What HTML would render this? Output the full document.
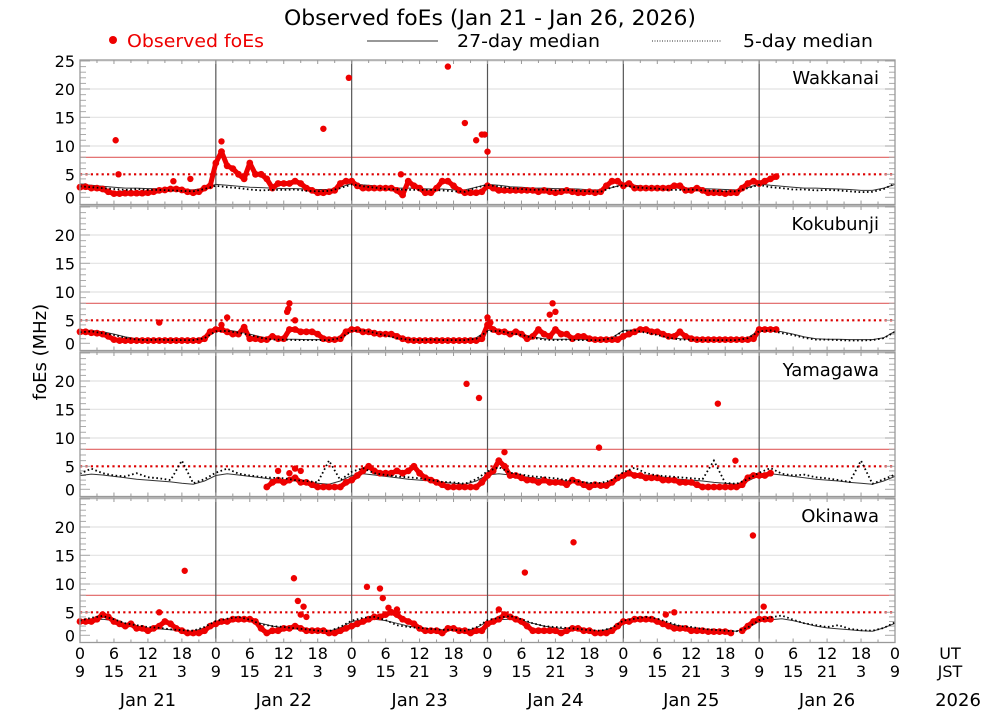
<!DOCTYPE html>
<html><head><meta charset="utf-8"><style>
html,body{margin:0;padding:0;background:#fff;}
svg{display:block;font-family:"DejaVu Sans","Liberation Sans",sans-serif;}
</style></head><body>
<svg id="chart" width="1000" height="714" viewBox="0 0 1000 714" xmlns="http://www.w3.org/2000/svg">
<text x="490" y="25" font-size="21" text-anchor="middle" textLength="412" lengthAdjust="spacingAndGlyphs">Observed foEs (Jan 21 - Jan 26, 2026)</text>
<g>
<circle cx="113" cy="40" r="4" fill="#e00"/>
<text x="127" y="47" font-size="18" fill="#e00" textLength="137" lengthAdjust="spacingAndGlyphs">Observed foEs</text>
<line x1="367" y1="41" x2="438" y2="41" stroke="#777" stroke-width="1.5"/>
<text x="457" y="47" font-size="18" textLength="143" lengthAdjust="spacingAndGlyphs">27-day median</text>
<line x1="652" y1="41" x2="722" y2="41" stroke="#555" stroke-width="1.2" stroke-dasharray="1,1.5"/>
<text x="743" y="47" font-size="18" textLength="130" lengthAdjust="spacingAndGlyphs">5-day median</text>
</g>
<text transform="translate(46,352) rotate(-90)" font-size="18" text-anchor="middle">foEs (MHz)</text>
<g id="panels"></g>
<g id="xaxis"></g>
</svg>
<script>
const stations = ["Wakkanai","Kokubunji","Yamagawa","Okinawa"];
const yTicks = [0,5,10,15,20,25];
const dayLabels = ["Jan 21","Jan 22","Jan 23","Jan 24","Jan 25","Jan 26"];
const utLabels = ["0","6","12","18"];
const jstLabels = ["9","15","21","3"];
// observed hourly from h=0 (Jan 21 00UT); null = no data
const obsWakkanai = [2.2,2.3,2,2,1.8,1.2,0.8,0.8,0.9,0.9,0.9,0.9,1.0,1.2,1.5,1.6,1.8,1.8,1.6,1.2,1.0,1.2,2.0,2.5,
 7,9,6.5,6,5,4,7,5,5,4,2,3,3,3,3.5,3,2,1.5,1,1,1.2,1.5,3,3.5,
 3.5,2.5,2,2,2,2,2,2,1.5,0.5,3.5,2.5,2,1,1,2,3.5,3.5,2.5,1.5,1,1,1,1.2,
 2.5,2,1.5,1.5,1.5,1.5,1.5,1.5,1.5,1.2,1.5,1.2,1.0,1.2,1.5,1.2,1.0,1.0,1.2,1.0,1.2,2.5,3.5,3.5,
 2.5,3,2,2,2,2,2,2,2,2.5,2.5,1.5,1.5,2,1.5,1,1,1,0.8,1,1,2,3,3.5,
 3,3.5,4,4.5];
const outWakkanaiH = [6.3,6.8,16.5,19.5,25,43,47.5,56.7,65,68,70,71,71.5,72];
const outWakkanaiV = [11,5,3.5,4,10.8,13,22,5,24,14,11,12,12,9];
const obsKokubunji = [2.5,2.5,2.3,2.2,2,1.5,0.8,0.6,0.6,0.6,0.6,0.6,0.6,0.6,0.6,0.6,0.6,0.6,0.6,0.6,0.6,0.6,1,2.5,
 3,3,2.5,2,2,3.5,1,1,0.8,0.8,1.5,1,1,3,3,2.5,2.5,2.5,2,1,0.8,0.8,1,2.5,
 3,3,2.5,2.5,2.2,2,2,2,1.5,1,0.7,0.6,0.6,0.6,0.6,0.6,0.6,0.6,0.6,0.6,0.6,0.6,0.6,1,
 4,3,2.5,2.5,2,2.5,2,1,1.5,3,2,1.5,3,2,2,1,1.5,1.5,1,0.8,0.8,0.8,0.8,0.8,
 1.5,2,2.5,3,3,2.5,2.5,2,1.5,1.5,2.5,1.5,1,0.8,0.8,0.8,0.8,0.8,0.8,0.8,0.8,0.8,0.8,1,
 3,3,3,3];
const outKokubunjiH = [14,26,25,36.6,37,36.8,38,72,72.5,83,83.5,84];
const outKokubunjiV = [4.5,5.5,4,6.5,8,7,5,5.5,4.5,6,8,6.5];
const obsYamagawa = [null,null,null,null,null,null,null,null,null,null,null,null,null,null,null,null,null,null,null,null,null,null,null,null,
 null,null,null,null,null,null,null,null,null,0.5,1.5,2,1.5,2,2.5,1.5,1.5,1,0.5,0.5,0.5,0.5,0.5,1.5,
 2,3,4,5,4,3.5,3.5,3.5,4,3.5,4,5,3.5,2.5,2,1.5,1,0.5,0.5,0.5,0.5,0.5,0.5,1.5,
 3,4,6,5,3,3,2.5,2,2,1.5,2,1.5,1.5,1.5,1,2,1.5,1,0.5,1,0.8,0.8,1.5,2.5,
 3,3.5,3,3,2.5,2.5,2.5,2,2,2,1.5,1.5,1.5,1,0.5,0.5,0.5,0.5,0.5,0.5,0.5,1,2.5,3,
 3,3,3.5];
const outYamagawaH = [35,37,38,39,68.3,70.5,75,91.7,112.7,115.8];
const outYamagawaV = [4,3.5,4.5,4,19.5,17,7.5,8.3,16,6];
const obsOkinawa = [3,3,3,3.5,4.5,4,3,2.5,2,2.5,1.5,1.5,1,1.5,2,3,2.5,1.5,1,0.5,0.5,0.5,1,2,
 2.5,3,3,3.5,3.5,3.5,3.5,3,1.5,0.5,1,1,1.5,1.5,2,1.5,1,1,1,1,0.5,0.5,1,1.5,
 2,2.5,3,3.5,4,4,4.5,5,4.5,3.5,3,2.5,1.5,1,1,1,0.5,1.5,1.5,1,1,0.5,1,1,
 2.5,3,3.5,4.5,4,3.5,3,2,1,1,1,1,1,0.5,1,1.5,1.5,1,1,0.5,0.5,0.5,1,2,
 3,3,3.5,3.5,3.5,3.5,3,2.5,2,1.5,1.5,1.5,1,1,1,0.8,0.8,0.8,0.8,0.5,null,1,2,3,
 3.5,3.5,3.5];
const outOkinawaH = [14,18.5,37.8,38.5,39.5,39,40,50.7,53,53.5,54.5,56,74,78.6,87.2,103.5,105,118.9,120.8];
const outOkinawaV = [5,12.3,11,7,6,4.5,4,9.5,9.2,7.5,5.8,5.5,5.5,12,17.3,4.5,5,18.5,6];
// medians every 2 hours from h=0 to h=144
const med27Wakkanai = [2.8,2.6,2.4,2.2,2.0,2.0,1.9,1.9,1.8,1.7,1.6,2.0,
 2.8,2.6,2.4,2.2,2.1,2.0,1.9,1.9,1.8,1.7,1.7,2.2,
 3.0,2.7,2.5,2.2,2.0,2.0,1.9,1.8,1.8,1.6,1.6,2.2,
 2.8,2.6,2.3,2.2,2.0,2.0,1.9,1.9,1.8,1.6,1.6,2.1,
 2.8,2.6,2.4,2.2,2.0,2.0,2.0,1.9,1.8,1.7,1.6,2.1,
 2.9,2.6,2.4,2.2,2.0,2.0,1.9,1.8,1.7,1.5,1.5,2.0,2.8];
const med5Wakkanai = [2.4,2.2,2.0,1.8,1.6,1.8,1.6,1.6,1.5,1.4,1.3,1.8,
 2.5,2.2,2.0,1.7,1.5,1.6,1.6,1.7,1.4,1.3,1.4,2.0,
 2.8,2.4,2.1,1.8,1.7,1.6,1.6,1.6,1.5,1.3,1.2,2.1,
 2.7,2.3,2.0,1.8,1.6,1.7,1.5,1.6,1.4,1.3,1.2,2.2,
 2.6,2.2,2.0,1.9,1.6,1.6,1.7,1.5,1.4,1.3,1.3,2.0,
 2.7,2.2,2.0,1.7,1.7,1.5,1.6,1.5,1.3,1.1,1.2,1.8,3.0];
const med27Kokubunji = [2.7,2.8,2.5,2.0,1.4,1.0,0.9,0.9,0.8,0.8,0.8,1.2,
 2.8,2.9,2.5,2.0,1.4,1.0,0.9,0.9,0.8,0.8,0.8,1.2,
 2.8,2.9,2.5,2.0,1.4,1.0,0.9,0.9,0.8,0.8,0.8,1.2,
 2.8,2.9,2.5,2.0,1.4,1.0,0.9,0.9,0.8,0.8,0.8,1.2,
 2.8,2.9,2.5,2.0,1.4,1.0,0.9,0.9,0.8,0.8,0.8,1.2,
 2.8,2.9,2.5,2.0,1.4,1.0,0.9,0.9,0.8,0.8,0.8,1.2,2.6];
const med5Kokubunji = [2.4,2.6,2.2,1.8,1.2,0.8,0.7,0.8,0.7,0.7,0.7,1.1,
 2.6,2.7,2.3,1.8,1.2,0.8,0.8,0.7,0.7,0.7,0.7,1.1,
 2.7,2.8,2.3,1.7,1.1,0.8,0.7,0.8,0.7,0.7,0.7,1.0,
 2.6,2.7,2.2,1.8,1.2,0.8,0.7,0.8,0.7,0.7,0.7,1.1,
 2.7,2.8,2.3,1.8,1.2,0.8,0.8,0.7,0.7,0.7,0.7,1.1,
 2.6,2.8,2.2,1.8,1.2,0.8,0.8,0.7,0.6,0.6,0.7,1.1,2.5];
const med27Yamagawa = [3.0,3.3,3.1,2.8,2.5,2.2,2.0,1.8,1.6,1.3,1.1,1.8,
 3.0,3.4,3.1,2.8,2.5,2.2,2.0,1.8,1.5,1.3,1.1,1.8,
 3.0,3.4,3.1,2.8,2.5,2.2,2.0,1.8,1.5,1.3,1.1,1.8,
 3.1,3.4,3.1,2.8,2.5,2.2,2.0,1.8,1.5,1.3,1.1,1.8,
 3.0,3.4,3.1,2.8,2.5,2.2,2.0,1.8,1.5,1.3,1.1,1.8,
 3.0,3.4,3.1,2.8,2.5,2.2,2.0,1.8,1.5,1.3,1.1,1.8,2.8];
const med5Yamagawa = [3.4,4.5,3.5,3.0,2.8,3.5,2.6,2.4,2.0,6.0,1.3,2.2,
 3.6,4.5,3.4,3.0,2.7,2.5,2.4,2.0,1.8,1.5,6.0,2.0,
 3.8,4.6,3.5,3.1,2.8,2.6,2.4,2.0,1.6,1.5,1.2,2.2,
 3.9,4.8,3.6,3.2,2.8,2.6,2.4,2.0,1.7,1.4,1.4,2.0,
 3.7,4.7,3.5,3.0,2.8,2.6,2.4,2.2,6.0,1.4,1.2,2.2,
 3.6,4.6,3.4,3.0,3.2,2.6,2.4,2.0,1.6,6.0,1.2,2.2,3.2];
const med27Okinawa = [3.0,3.4,3.5,3.2,2.6,2.0,1.6,1.4,1.2,1.0,0.9,1.6,
 3.0,3.4,3.5,3.2,2.6,2.0,1.6,1.4,1.2,1.0,0.9,1.6,
 3.0,3.4,3.5,3.2,2.6,2.0,1.6,1.4,1.2,1.0,0.9,1.6,
 3.0,3.4,3.5,3.2,2.6,2.0,1.6,1.4,1.2,1.0,0.9,1.6,
 3.0,3.4,3.5,3.2,2.6,2.0,1.6,1.4,1.2,1.0,0.9,1.6,
 3.0,3.4,3.6,3.2,2.6,2.0,1.6,1.4,1.2,1.0,0.9,1.6,2.6];
const med5Okinawa = [3.2,3.8,4.2,3.5,2.6,2.2,1.8,1.6,1.3,1.1,1.0,1.8,
 3.1,3.6,4.0,3.4,2.4,2.0,1.8,1.5,1.3,1.0,0.9,1.8,
 3.2,3.8,4.0,3.3,2.2,1.8,1.6,1.4,1.2,1.2,1.0,1.7,
 3.3,3.8,4.2,3.5,2.6,2.0,1.8,1.6,1.4,1.1,1.0,1.6,
 3.2,3.6,4.0,3.6,2.8,2.0,1.8,1.4,1.2,1.0,0.9,1.7,
 3.3,3.9,4.3,3.4,2.6,2.2,1.8,2.2,1.4,1.1,1.0,1.6,2.8];

const obsAll = [obsWakkanai,obsKokubunji,obsYamagawa,obsOkinawa];
const outH = [outWakkanaiH,outKokubunjiH,outYamagawaH,outOkinawaH];
const outV = [outWakkanaiV,outKokubunjiV,outYamagawaV,outOkinawaV];
const med27All = [med27Wakkanai,med27Kokubunji,med27Yamagawa,med27Okinawa];
const med5All = [med5Wakkanai,med5Kokubunji,med5Yamagawa,med5Okinawa];

const NS="http://www.w3.org/2000/svg";
const X0=80, X1=895, HOURS=144, PANEL_H=146, TOP0=60;
function xs(h){return X0+(X1-X0)*h/HOURS;}
const tickY=[197.3,174.3,146,117.3,89,61]; // panel-1 positions for yTicks
function ys(v,p){
  const off=p*PANEL_H;
  let i=0;
  if(v<=yTicks[0]) i=0; else { while(i<yTicks.length-2 && v>yTicks[i+1]) i++; }
  const t=(v-yTicks[i])/(yTicks[i+1]-yTicks[i]);
  return off+tickY[i]+t*(tickY[i+1]-tickY[i]);
}
function mk(tag,attrs,parent){const e=document.createElementNS(NS,tag);for(const k in attrs)e.setAttribute(k,attrs[k]);parent.appendChild(e);return e;}

const panels=document.getElementById('panels');
for(let p=0;p<4;p++){
  const top=TOP0+p*PANEL_H, bot=top+144.5;
  const g=mk('g',{},panels);
  
  
  // gridlines
  for(let k=2;k<yTicks.length;k++){
    const v=yTicks[k]; const y=ys(v,p);
    if(y<top+1) continue;
    const gl=mk('line',{x1:X0,x2:X1,y1:y,y2:y,stroke:'#e2e2e2','stroke-width':1.2},g);
    
    
  }
  const r8=mk('line',{x1:X0,x2:X1,y1:ys(8,p),y2:ys(8,p),stroke:'#e06060','stroke-width':1.2},g);
  
  
  const r5=mk('line',{x1:X0,x2:X1,y1:ys(5,p),y2:ys(5,p),stroke:'#d00','stroke-width':2.2,'stroke-dasharray':'2.2,3.2'},g);
  
  
  // day separators
  for(let d=1;d<6;d++){
    const dl=mk('line',{x1:xs(d*24),x2:xs(d*24),y1:top,y2:bot,stroke:'#555','stroke-width':1.2},g);
    
    
  }
  // minor ticks x
  for(let h=3;h<HOURS;h+=3){
    const L=(h%6===0)?4:3;
    mk('line',{x1:xs(h),x2:xs(h),y1:bot,y2:bot-L,stroke:'#999','stroke-width':1},g);
    mk('line',{x1:xs(h),x2:xs(h),y1:top,y2:top+L,stroke:'#999','stroke-width':1},g);
  }
  // y minor ticks
  for(let v=0;v<=25;v++){
    const y=ys(v,p); if(y<top+0.5) continue;
    const L=(v%5===0)?10:6;
    mk('line',{x1:X0,x2:X0+L,y1:y,y2:y,stroke:'#aaa','stroke-width':1},g);
    mk('line',{x1:X1,x2:X1-L,y1:y,y2:y,stroke:'#aaa','stroke-width':1},g);
  }
  // y tick labels
  for(let k=0;k<yTicks.length;k++){
    const v=yTicks[k]; if(p>0 && v===25) continue;
    const t=mk('text',{x:75,y:ys(v,p)+6,'font-size':16,'text-anchor':'end'},g);
    t.textContent=v;
    
    
  }
  // medians
  const m27=med27All[p], m5=med5All[p];
  let d27='',d5='';
  for(let i=0;i<m27.length;i++){d27+=(i?'L':'M')+xs(i*2).toFixed(1)+','+ys(m27[i],p).toFixed(1);}
  for(let i=0;i<m5.length;i++){d5+=(i?'L':'M')+xs(i*2).toFixed(1)+','+ys(m5[i],p).toFixed(1);}
  const l27=mk('path',{d:d27,fill:'none',stroke:'#333','stroke-width':1},g);
  
  
  // observed
  const obs=obsAll[p];
  let d='';let pen=false;
  for(let i=0;i<obs.length;i++){
    if(obs[i]===null){pen=false;continue;}
    d+=(pen?'L':'M')+xs(i).toFixed(1)+','+ys(obs[i],p).toFixed(1);pen=true;
  }
  const ol=mk('path',{d:d,fill:'none',stroke:'#e00','stroke-width':5,'stroke-linejoin':'round','stroke-linecap':'round'},g);
  
  
  for(let i=0;i<obs.length;i++){
    if(obs[i]===null) continue;
    const c=mk('circle',{cx:xs(i),cy:ys(obs[i],p),r:3.4,fill:'#e00'},g);
    
    
  }
  for(let i=0;i<outH[p].length;i++){
    const c=mk('circle',{cx:xs(outH[p][i]),cy:ys(outV[p][i],p),r:3.2,fill:'#e00'},g);
    
    
  }
  const l5=mk('path',{d:d5,fill:'none',stroke:'#000','stroke-width':1.8,'stroke-dasharray':'1.6,2.6'},g);
  
  
  // frame
  const fr=mk('rect',{x:X0,y:top,width:X1-X0,height:bot-top,fill:'none',stroke:'#999','stroke-width':1.3},g);
  
  
  const nm=mk('text',{x:879,y:top+24,'font-size':18,'text-anchor':'end'},g);
  nm.textContent=stations[p];
  
  
}
// x axis labels
const xa=document.getElementById('xaxis');
for(let d=0;d<=6;d++){
  for(let k=0;k<4;k++){
    if(d===6 && k>0) break;
    const h=d*24+k*6;
    const u=mk('text',{x:xs(h),y:659,'font-size':16,'text-anchor':'middle'},xa);
    u.textContent=utLabels[k];
    
    
    const j=mk('text',{x:xs(h),y:677,'font-size':16,'text-anchor':'middle'},xa);
    j.textContent=jstLabels[k];
    
    
  }
}
for(let d=0;d<6;d++){
  const t=mk('text',{x:xs(d*24+12)-0,y:706,'font-size':18,'text-anchor':'middle'},xa);
  t.textContent=dayLabels[d];
  
  
}
[["UT",950,659],["JST",950,677],["2026",958,706]].forEach(a=>{
  const t=mk('text',{x:a[1],y:a[2],'font-size':a[0]==="2026"?18:16,'text-anchor':'middle'},xa);
  t.textContent=a[0];
  
  
});
</script>
</body></html>
